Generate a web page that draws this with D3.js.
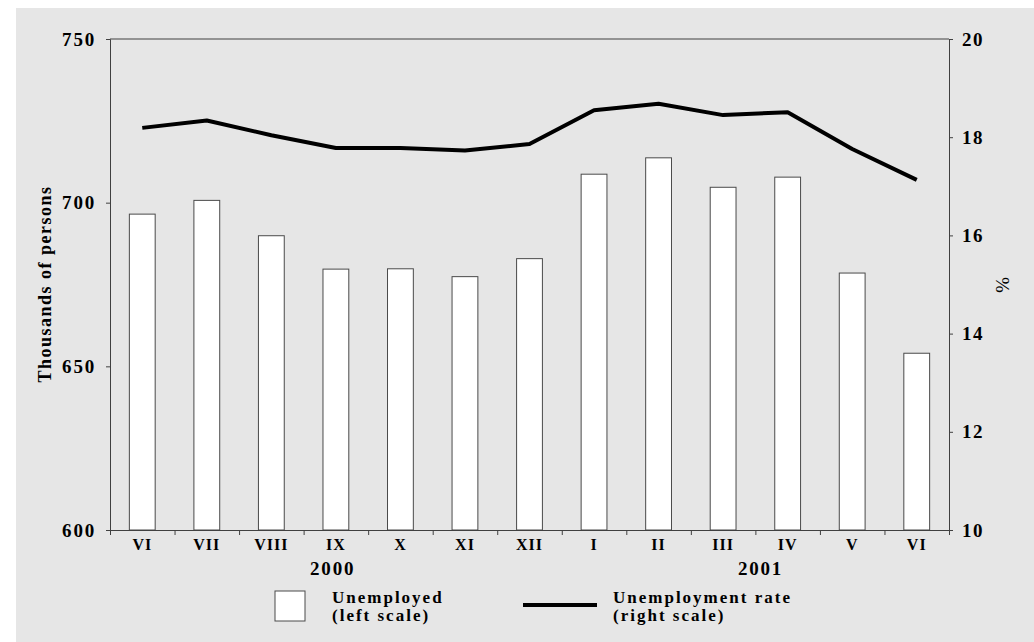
<!DOCTYPE html>
<html>
<head>
<meta charset="utf-8">
<script src="https://cdn.jsdelivr.net/npm/d3@7"></script>
<style>
  html, body { margin: 0; padding: 0; background: #fff; }
  svg text { font-family: "Liberation Serif", "Times New Roman", serif; font-weight: bold; fill: #000; }
</style>
</head>
<body>
<div id="chart"></div>
<script>
// Monthly unemployment, June 2000 - June 2001
const months = ['VI', 'VII', 'VIII', 'IX', 'X', 'XI', 'XII', 'I', 'II', 'III', 'IV', 'V', 'VI'];
const unemployed = [696.5, 700.7, 689.9, 679.7, 679.8, 677.4, 682.9, 708.7, 713.7, 704.7, 707.8, 678.5, 654.0];
const rate = [18.19, 18.34, 18.04, 17.78, 17.78, 17.73, 17.86, 18.55, 18.68, 18.45, 18.51, 17.76, 17.13];
const leftTicks = [600, 650, 700, 750];
const rightTicks = [10, 12, 14, 16, 18, 20];
const years = [{ label: '2000', at: 3, shift: 0.45 }, { label: '2001', at: 10, shift: 0.08 }];

const W = 1034, H = 642;
const margin = { top: 39, right: 85, bottom: 112, left: 110 };
const width = W - margin.left - margin.right;
const height = H - margin.top - margin.bottom;

const svg = d3.select('#chart').append('svg')
  .attr('width', W)
  .attr('height', H);

// grey panel
svg.append('rect')
  .attr('x', 16).attr('y', 8)
  .attr('width', W - 16).attr('height', H - 8)
  .attr('fill', '#e6e6e6');

const g = svg.append('g')
  .attr('transform', `translate(${margin.left},${margin.top})`);

const idx = d3.range(months.length);

// Scales
const xScale = d3.scaleBand()
  .domain(idx)
  .range([0, width])
  .paddingInner(0.6)
  .paddingOuter(0.3);

const xTick = d3.scaleLinear().domain([0, months.length]).range([0, width]);

const yLeft = d3.scaleLinear().domain([600, 750]).range([height, 0]);
const yRight = d3.scaleLinear().domain([10, 20]).range([height, 0]);

const axisColor = '#404040';

// frame top line
g.append('line')
  .attr('x1', 0).attr('x2', width)
  .attr('y1', 0).attr('y2', 0)
  .attr('stroke', axisColor);

// Bars
g.append('g')
  .attr('class', 'bars')
  .selectAll('rect')
  .data(idx)
  .enter()
  .append('rect')
  .attr('x', i => xScale(i))
  .attr('y', i => yLeft(unemployed[i]))
  .attr('width', xScale.bandwidth())
  .attr('height', i => height - yLeft(unemployed[i]))
  .attr('fill', '#fff')
  .attr('stroke', '#4a4a4a')
  .attr('stroke-width', 1);

// Line
const line = d3.line()
  .x(i => xScale(i) + xScale.bandwidth() / 2)
  .y(i => yRight(rate[i]));

g.append('path')
  .datum(idx)
  .attr('d', line)
  .attr('fill', 'none')
  .attr('stroke', '#000')
  .attr('stroke-width', 4)
  .attr('stroke-linejoin', 'round');

// Left axis
const leftAxis = g.append('g')
  .call(d3.axisLeft(yLeft).tickValues(leftTicks).tickSize(4).tickPadding(10));
leftAxis.selectAll('text')
  .style('font-size', '19px')
  .style('letter-spacing', '1.8px');

// Right axis
const rightAxis = g.append('g')
  .attr('transform', `translate(${width},0)`)
  .call(d3.axisRight(yRight).tickValues(rightTicks).tickSize(4).tickPadding(9));
rightAxis.selectAll('text')
  .style('font-size', '19px')
  .style('letter-spacing', '1.5px');

// Bottom ticks on band boundaries
g.append('g')
  .attr('transform', `translate(0,${height})`)
  .call(d3.axisBottom(xTick).tickValues(d3.range(months.length + 1)).tickSize(5).tickFormat(''));

// Month labels
const bottomLabels = g.append('g')
  .attr('transform', `translate(0,${height})`)
  .call(d3.axisBottom(xScale).tickSize(0).tickPadding(9).tickFormat(i => months[i]));
bottomLabels.select('.domain').remove();
bottomLabels.selectAll('text')
  .style('font-size', '16px')
  .style('letter-spacing', '1px');

g.selectAll('.domain, .tick line')
  .attr('stroke', axisColor);

// Year labels
g.selectAll('.year')
  .data(years)
  .enter()
  .append('text')
  .attr('class', 'year')
  .attr('x', d => xTick(d.at + d.shift))
  .attr('y', height + 45)
  .attr('text-anchor', 'middle')
  .style('font-size', '19px')
  .style('letter-spacing', '1.8px')
  .text(d => d.label);

// Axis titles
svg.append('text')
  .attr('transform', 'translate(51,284) rotate(-90)')
  .attr('text-anchor', 'middle')
  .style('font-size', '18px')
  .style('letter-spacing', '1.5px')
  .text('Thousands of persons');

svg.append('text')
  .attr('transform', 'translate(996,285) rotate(90)')
  .attr('text-anchor', 'middle')
  .style('font-size', '19px')
  .style('font-weight', 'normal')
  .text('%');

// Legend
const legend = svg.append('g');
legend.append('rect')
  .attr('x', 275).attr('y', 591)
  .attr('width', 30).attr('height', 30)
  .attr('fill', '#fff')
  .attr('stroke', '#4a4a4a');

legend.append('line')
  .attr('x1', 523).attr('x2', 597)
  .attr('y1', 605).attr('y2', 605)
  .attr('stroke', '#000')
  .attr('stroke-width', 4);

const legendItems = [
  { x: 332, lines: ['Unemployed', '(left scale)'] },
  { x: 613, lines: ['Unemployment rate', '(right scale)'] }
];

legendItems.forEach(item => {
  item.lines.forEach((s, k) => {
    legend.append('text')
      .attr('x', item.x)
      .attr('y', 603 + k * 18)
      .style('font-size', '17px')
      .style('letter-spacing', '2px')
      .text(s);
  });
});
</script>
</body>
</html>
